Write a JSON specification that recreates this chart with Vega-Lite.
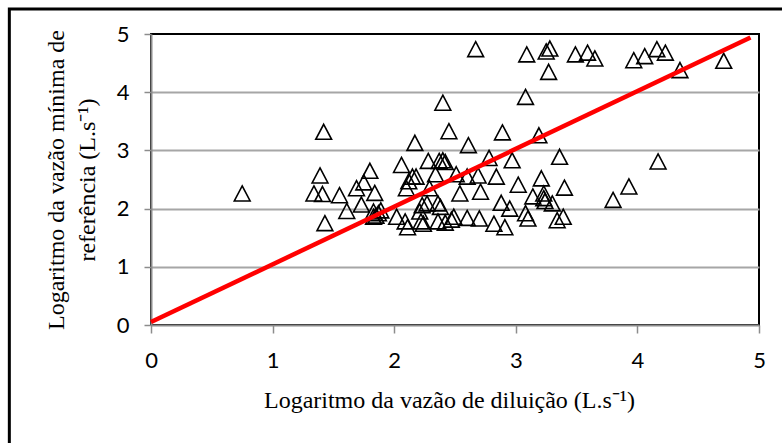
{
  "$schema": "https://vega.github.io/schema/vega-lite/v6.json",
  "width": 608,
  "height": 291,
  "autosize": {"type": "none"},
  "padding": {"left": 151, "top": 34, "right": 23, "bottom": 118},
  "background": "white",
  "config": {
    "view": {"stroke": "#000000", "strokeWidth": 2},
    "axis": {
      "labelFont": "Lato",
      "labelFontSize": 22,
      "labelColor": "#000000",
      "titleFont": "Liberation Serif",
      "titleFontSize": 24,
      "titleFontWeight": "normal",
      "titleColor": "#000000",
      "tickColor": "#8c8c8c",
      "tickWidth": 1.5,
      "domainColor": "#8c8c8c",
      "domainWidth": 2,
      "labelFlush": false,
      "labelOverlap": false,
      "format": "d"
    }
  },
  "datasets": {
    "pts": [
      {"x":0.75,"y":2.26},{"x":1.42,"y":3.32},{"x":1.39,"y":2.57},{"x":1.34,"y":2.26},{"x":1.41,"y":2.25},
      {"x":1.43,"y":1.75},{"x":1.55,"y":2.23},{"x":1.61,"y":1.96},{"x":1.69,"y":2.35},{"x":1.75,"y":2.45},
      {"x":1.80,"y":2.65},{"x":1.84,"y":2.27},{"x":1.73,"y":2.07},{"x":1.83,"y":1.95},{"x":1.85,"y":1.88},
      {"x":1.87,"y":1.92},{"x":1.83,"y":1.86},{"x":1.89,"y":1.97},{"x":2.06,"y":2.75},{"x":2.17,"y":3.13},
      {"x":2.40,"y":3.82},{"x":2.45,"y":3.33},{"x":2.28,"y":2.82},{"x":2.40,"y":2.83},{"x":2.42,"y":2.80},
      {"x":2.34,"y":2.59},{"x":2.15,"y":2.55},{"x":2.18,"y":2.55},{"x":2.12,"y":2.47},{"x":2.10,"y":2.35},
      {"x":2.29,"y":2.35},{"x":2.23,"y":2.06},{"x":2.27,"y":2.09},{"x":2.36,"y":2.09},{"x":2.21,"y":1.95},
      {"x":2.02,"y":1.86},{"x":2.09,"y":1.78},{"x":2.11,"y":1.68},{"x":2.22,"y":1.78},{"x":2.24,"y":1.74},
      {"x":2.36,"y":1.78},{"x":2.38,"y":2.03},{"x":2.67,"y":4.74},{"x":3.09,"y":4.65},{"x":3.25,"y":4.70},
      {"x":3.28,"y":4.75},{"x":3.27,"y":4.35},{"x":3.49,"y":4.65},{"x":3.59,"y":4.68},{"x":3.65,"y":4.58},
      {"x":3.97,"y":4.55},{"x":4.06,"y":4.62},{"x":4.16,"y":4.74},{"x":4.23,"y":4.68},{"x":4.35,"y":4.38},
      {"x":4.71,"y":4.54},{"x":3.08,"y":3.92},{"x":2.89,"y":3.31},{"x":3.19,"y":3.26},{"x":2.61,"y":3.09},
      {"x":2.78,"y":2.87},{"x":2.97,"y":2.83},{"x":3.36,"y":2.89},{"x":4.17,"y":2.81},{"x":2.51,"y":2.59},
      {"x":2.60,"y":2.55},{"x":2.69,"y":2.57},{"x":2.84,"y":2.55},{"x":3.21,"y":2.52},{"x":3.02,"y":2.41},
      {"x":2.71,"y":2.29},{"x":2.54,"y":2.26},{"x":3.23,"y":2.26},{"x":3.40,"y":2.36},{"x":3.93,"y":2.38},
      {"x":3.80,"y":2.15},{"x":3.14,"y":2.21},{"x":3.23,"y":2.18},{"x":3.30,"y":2.09},{"x":2.88,"y":2.10},
      {"x":2.95,"y":2.00},{"x":3.08,"y":1.92},{"x":3.10,"y":1.83},{"x":3.34,"y":1.80},{"x":3.39,"y":1.86},
      {"x":2.82,"y":1.74},{"x":2.91,"y":1.68},{"x":2.70,"y":1.83},{"x":2.60,"y":1.84},{"x":2.47,"y":1.81},
      {"x":2.49,"y":1.86},{"x":2.42,"y":1.76},{"x":3.24,"y":2.13},{"x":2.37,"y":2.82}
    ],
    "fit": [{"x":0,"y":0.05},{"x":4.93,"y":4.94}]
  },
  "layer": [
    {
      "data": {"values": [{}]},
      "mark": {"type": "rect", "fill": "transparent", "stroke": "#000000", "strokeWidth": 3, "clip": false},
      "encoding": {
        "x": {"datum": -1.165, "type": "quantitative"},
        "x2": {"datum": 5.5},
        "y": {"datum": 5.43, "type": "quantitative"},
        "y2": {"datum": -2.5}
      }
    },
    {
      "data": {"name": "pts"},
      "mark": {"type": "point", "shape": "M0,-0.95L1,0.95L-1,0.95Z", "size": 250, "filled": false, "stroke": "#000000", "strokeWidth": 1.6, "opacity": 1},
      "encoding": {
        "x": {
          "field": "x", "type": "quantitative",
          "scale": {"domain": [0, 5], "nice": false, "zero": false},
          "axis": {
            "title": "Logaritmo da vazão de diluição (L.s⁻¹)",
            "values": [0, 1, 2, 3, 4, 5],
            "grid": false,
            "tickSize": 8,
            "labelPadding": 17,
            "titleX": 298,
            "titleY": 82,
            "titleBaseline": "alphabetic"
          }
        },
        "y": {
          "field": "y", "type": "quantitative",
          "scale": {"domain": [0, 5], "nice": false, "zero": false},
          "axis": {
            "title": ["Logaritmo da vazão mínima de", "referência (L.s⁻¹)"],
            "values": [0, 1, 2, 3, 4, 5],
            "grid": true,
            "gridColor": "#a6a6a6",
            "gridWidth": 2,
            "gridOpacity": {"condition": {"test": "datum.value == 0 || datum.value == 5", "value": 0}, "value": 1},
            "tickSize": 7,
            "labelPadding": 15,
            "titleAngle": -90,
            "titleX": -95,
            "titleY": 145.5,
            "titleAlign": "center",
            "titleBaseline": "middle",
            "titleLineHeight": 31
          }
        }
      }
    },
    {
      "data": {"name": "fit"},
      "mark": {"type": "line", "color": "#ff0000", "strokeWidth": 4.5, "strokeCap": "butt"},
      "encoding": {
        "x": {"field": "x", "type": "quantitative"},
        "y": {"field": "y", "type": "quantitative"}
      }
    }
  ]
}
